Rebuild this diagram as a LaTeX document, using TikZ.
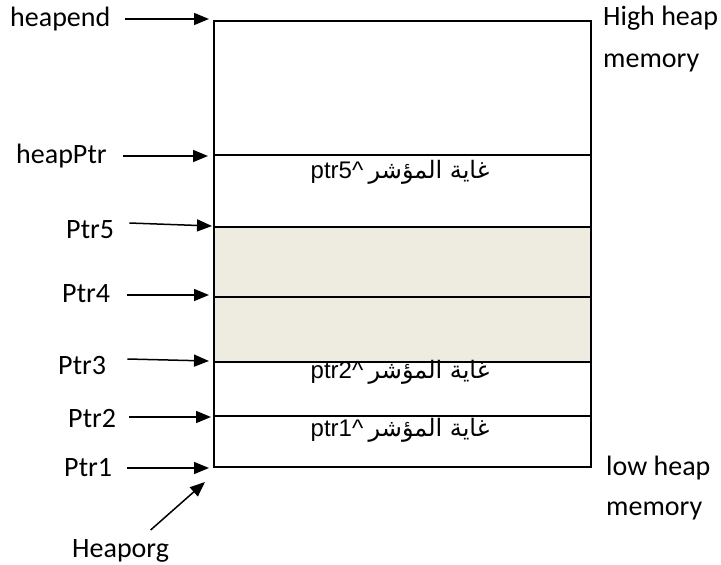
\documentclass[tikz,border=0pt]{standalone}
\usepackage{fontspec}
\setmainfont{Carlito}
\newfontfamily\arabicfont[Script=Arabic]{DejaVu Sans}
\newfontfamily\arialfont{Liberation Sans}
\TeXXeTstate=1
\usetikzlibrary{arrows.meta}
\definecolor{freeblock}{RGB}{238,236,225}

\begin{document}
\begin{tikzpicture}[x=1pt,y=-1pt,
  lbl/.style={anchor=base west, inner sep=0pt, font=\fontsize{28}{32}\selectfont},
  cell/.style={anchor=base, inner sep=0pt, font=\fontsize{24}{28}\selectfont},
  ptrarrow/.style={-{Triangle[length=15pt,width=12pt]}, line width=1.5pt},
  wall/.style={line width=2.2pt}]
\useasboundingbox (0,0) rectangle (721,565);

% heap block with its free (shaded) region
\fill[freeblock] (214,227) rectangle (591,362);
\draw[wall] (214,21) rectangle (591,467);
\foreach \y in {155,227,297,362,416}
  \draw[wall] (214,\y) -- (591,\y);

% contents of the allocated blocks
\newcommand{\blocktext}[1]{{\arialfont ptr#1\textasciicircum} {\arabicfont\beginR غاية المؤشر\endR}}
\node[cell] (c5) at (400,178) {\blocktext{5}};
\node[cell] (c2) at (400,378) {\blocktext{2}};
\node[cell] (c1) at (400,436) {\blocktext{1}};

% pointer names
\node[lbl] (heapend) at (10,26)  {heapend};
\node[lbl] (heapptr) at (16,163) {heapPtr};
\node[lbl] (ptr5)    at (66,238) {Ptr5};
\node[lbl] (ptr4)    at (62,302) {Ptr4};
\node[lbl] (ptr3)    at (58,374) {Ptr3};
\node[lbl] (ptr2)    at (68,427) {Ptr2};
\node[lbl] (ptr1)    at (64,476) {Ptr1};
\node[lbl] (heaporg) at (72,557) {Heaporg};

% side notes
\node[lbl] (highA) at (603,25)  {High heap};
\node[lbl] (highB) at (603,67)  {memory};
\node[lbl] (lowA)  at (606,475) {low heap};
\node[lbl] (lowB)  at (606,515) {memory};

% where the pointers land on the block
\coordinate (pA) at (209,19);
\coordinate (pB) at (208,156);
\coordinate (pC) at (212,226);
\coordinate (pD) at (209,295);
\coordinate (pE) at (209,361);
\coordinate (pF) at (211,417);
\coordinate (pG) at (209,468);
\coordinate (pH) at (205,482);

\draw[ptrarrow] (heapend.base east) ++(14,-7)  -- (pA);
\draw[ptrarrow] (heapptr.base east) ++(16,-7)  -- (pB);
\draw[ptrarrow] (ptr5.base east)    ++(15,-15) -- (pC);
\draw[ptrarrow] (ptr4.base east)    ++(17,-7)  -- (pD);
\draw[ptrarrow] (ptr3.base east)    ++(21,-15) -- (pE);
\draw[ptrarrow] (ptr2.base east)    ++(13,-10) -- (pF);
\draw[ptrarrow] (ptr1.base east)    ++(15,-8)  -- (pG);
\draw[ptrarrow] (heaporg.base)      ++(30,-27) -- (pH);
\end{tikzpicture}
\end{document}
